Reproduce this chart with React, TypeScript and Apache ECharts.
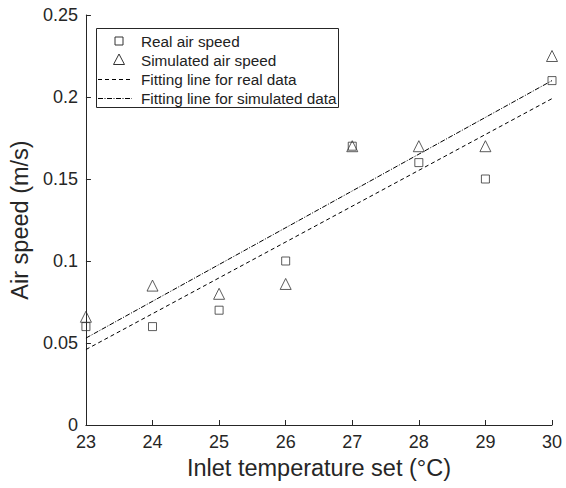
import React, { useEffect, useRef } from "react";
import * as echarts from "echarts";

const temperatures = [23, 24, 25, 26, 27, 28, 29, 30];
const realSpeed = [0.06, 0.06, 0.07, 0.1, 0.17, 0.16, 0.15, 0.21];
const simSpeed = [0.066, 0.085, 0.08, 0.086, 0.17, 0.17, 0.17, 0.225];
const fitX = [23, 30];
const realFit = [0.046, 0.199];
const simFit = [0.053, 0.21];
const legendLabels = [
  "Real air speed",
  "Simulated air speed",
  "Fitting line for real data",
  "Fitting line for simulated data",
];

const FONT = "'Liberation Sans', Arial, Helvetica, sans-serif";
const AX = "#262626";

export default function App() {
  const ref = useRef<HTMLDivElement>(null);
  useEffect(() => {
    if (!ref.current) return;
    const chart = echarts.init(ref.current, undefined, { renderer: "svg" });
    const lx = 96, ly = 28;
    const rowY = [41, 60, 79, 98];
    chart.setOption({
      animation: false,
      backgroundColor: "#fff",
      textStyle: { fontFamily: FONT },
      grid: { left: 83, right: 14, top: 15, bottom: 63 },
      xAxis: {
        type: "value",
        min: 23,
        max: 30,
        interval: 1,
        name: "Inlet temperature set (°C)",
        nameLocation: "middle",
        nameGap: 31,
        nameTextStyle: { fontSize: 23.5, color: AX, fontFamily: FONT },
        axisLine: { show: true, lineStyle: { color: AX, width: 1 } },
        axisTick: { show: true, inside: true, length: 5, lineStyle: { color: AX } },
        axisLabel: { fontSize: 18, color: AX, margin: 8, fontFamily: FONT, showMaxLabel: true },
        splitLine: { show: false },
      },
      yAxis: {
        type: "value",
        min: 0,
        max: 0.25,
        interval: 0.05,
        name: "Air speed (m/s)",
        nameLocation: "middle",
        nameGap: 47,
        nameTextStyle: { fontSize: 23.5, color: AX, fontFamily: FONT },
        axisLine: { show: true, lineStyle: { color: AX, width: 1 } },
        axisTick: { show: true, inside: true, length: 5, lineStyle: { color: AX } },
        axisLabel: { fontSize: 18, color: AX, margin: 8, fontFamily: FONT },
        splitLine: { show: false },
      },
      series: [
        {
          type: "line",
          data: fitX.map((x, i) => [x, realFit[i]]),
          symbol: "none",
          lineStyle: { color: "#000", width: 1, type: [4, 3] },
          z: 2,
        },
        {
          type: "line",
          data: fitX.map((x, i) => [x, simFit[i]]),
          symbol: "none",
          lineStyle: { color: "#000", width: 1, type: [5, 1.5, 1, 1.5] },
          z: 2,
        },
        {
          type: "scatter",
          data: temperatures.map((t, i) => [t, realSpeed[i]]),
          symbol: "rect",
          symbolSize: 8,
          itemStyle: { color: "rgba(0,0,0,0)", borderColor: "#333", borderWidth: 1 },
          z: 3,
        },
        {
          type: "scatter",
          data: temperatures.map((t, i) => [t, simSpeed[i]]),
          symbol: "triangle",
          symbolSize: 11,
          itemStyle: { color: "rgba(0,0,0,0)", borderColor: "#333", borderWidth: 1 },
          z: 3,
        },
      ],
      graphic: [
        {
          type: "group",
          z: 100,
          children: [
            {
              type: "rect",
              shape: { x: lx + 0.5, y: ly + 0.5, width: 242, height: 79 },
              style: { fill: "#fff", stroke: AX, lineWidth: 1 },
            },
            {
              type: "rect",
              shape: { x: 115, y: rowY[0] - 4, width: 8, height: 8 },
              style: { fill: "none", stroke: "#333", lineWidth: 1 },
            },
            {
              type: "polygon",
              shape: { points: [[119, rowY[1] - 6], [113.5, rowY[1] + 4.5], [124.5, rowY[1] + 4.5]] },
              style: { fill: "none", stroke: "#333", lineWidth: 1 },
            },
            {
              type: "line",
              shape: { x1: 98, y1: rowY[2] + 0.5, x2: 132, y2: rowY[2] + 0.5 },
              style: { stroke: "#000", lineWidth: 1, lineDash: [4, 3] },
            },
            {
              type: "line",
              shape: { x1: 98, y1: rowY[3] + 0.5, x2: 132, y2: rowY[3] + 0.5 },
              style: { stroke: "#000", lineWidth: 1, lineDash: [5, 1.5, 1, 1.5] },
            },
            ...legendLabels.map((t, i) => ({
              type: "text",
              x: 141,
              y: rowY[i],
              style: {
                text: t,
                fontSize: 15.3,
                fontFamily: FONT,
                fill: "#222",
                verticalAlign: "middle",
                align: "left",
              },
            })),
          ],
        },
      ],
    });
    return () => chart.dispose();
  }, []);
  return (
    <div
      ref={ref}
      style={{ position: "fixed", left: 0, top: 0, width: 566, height: 488 }}
    />
  );
}
